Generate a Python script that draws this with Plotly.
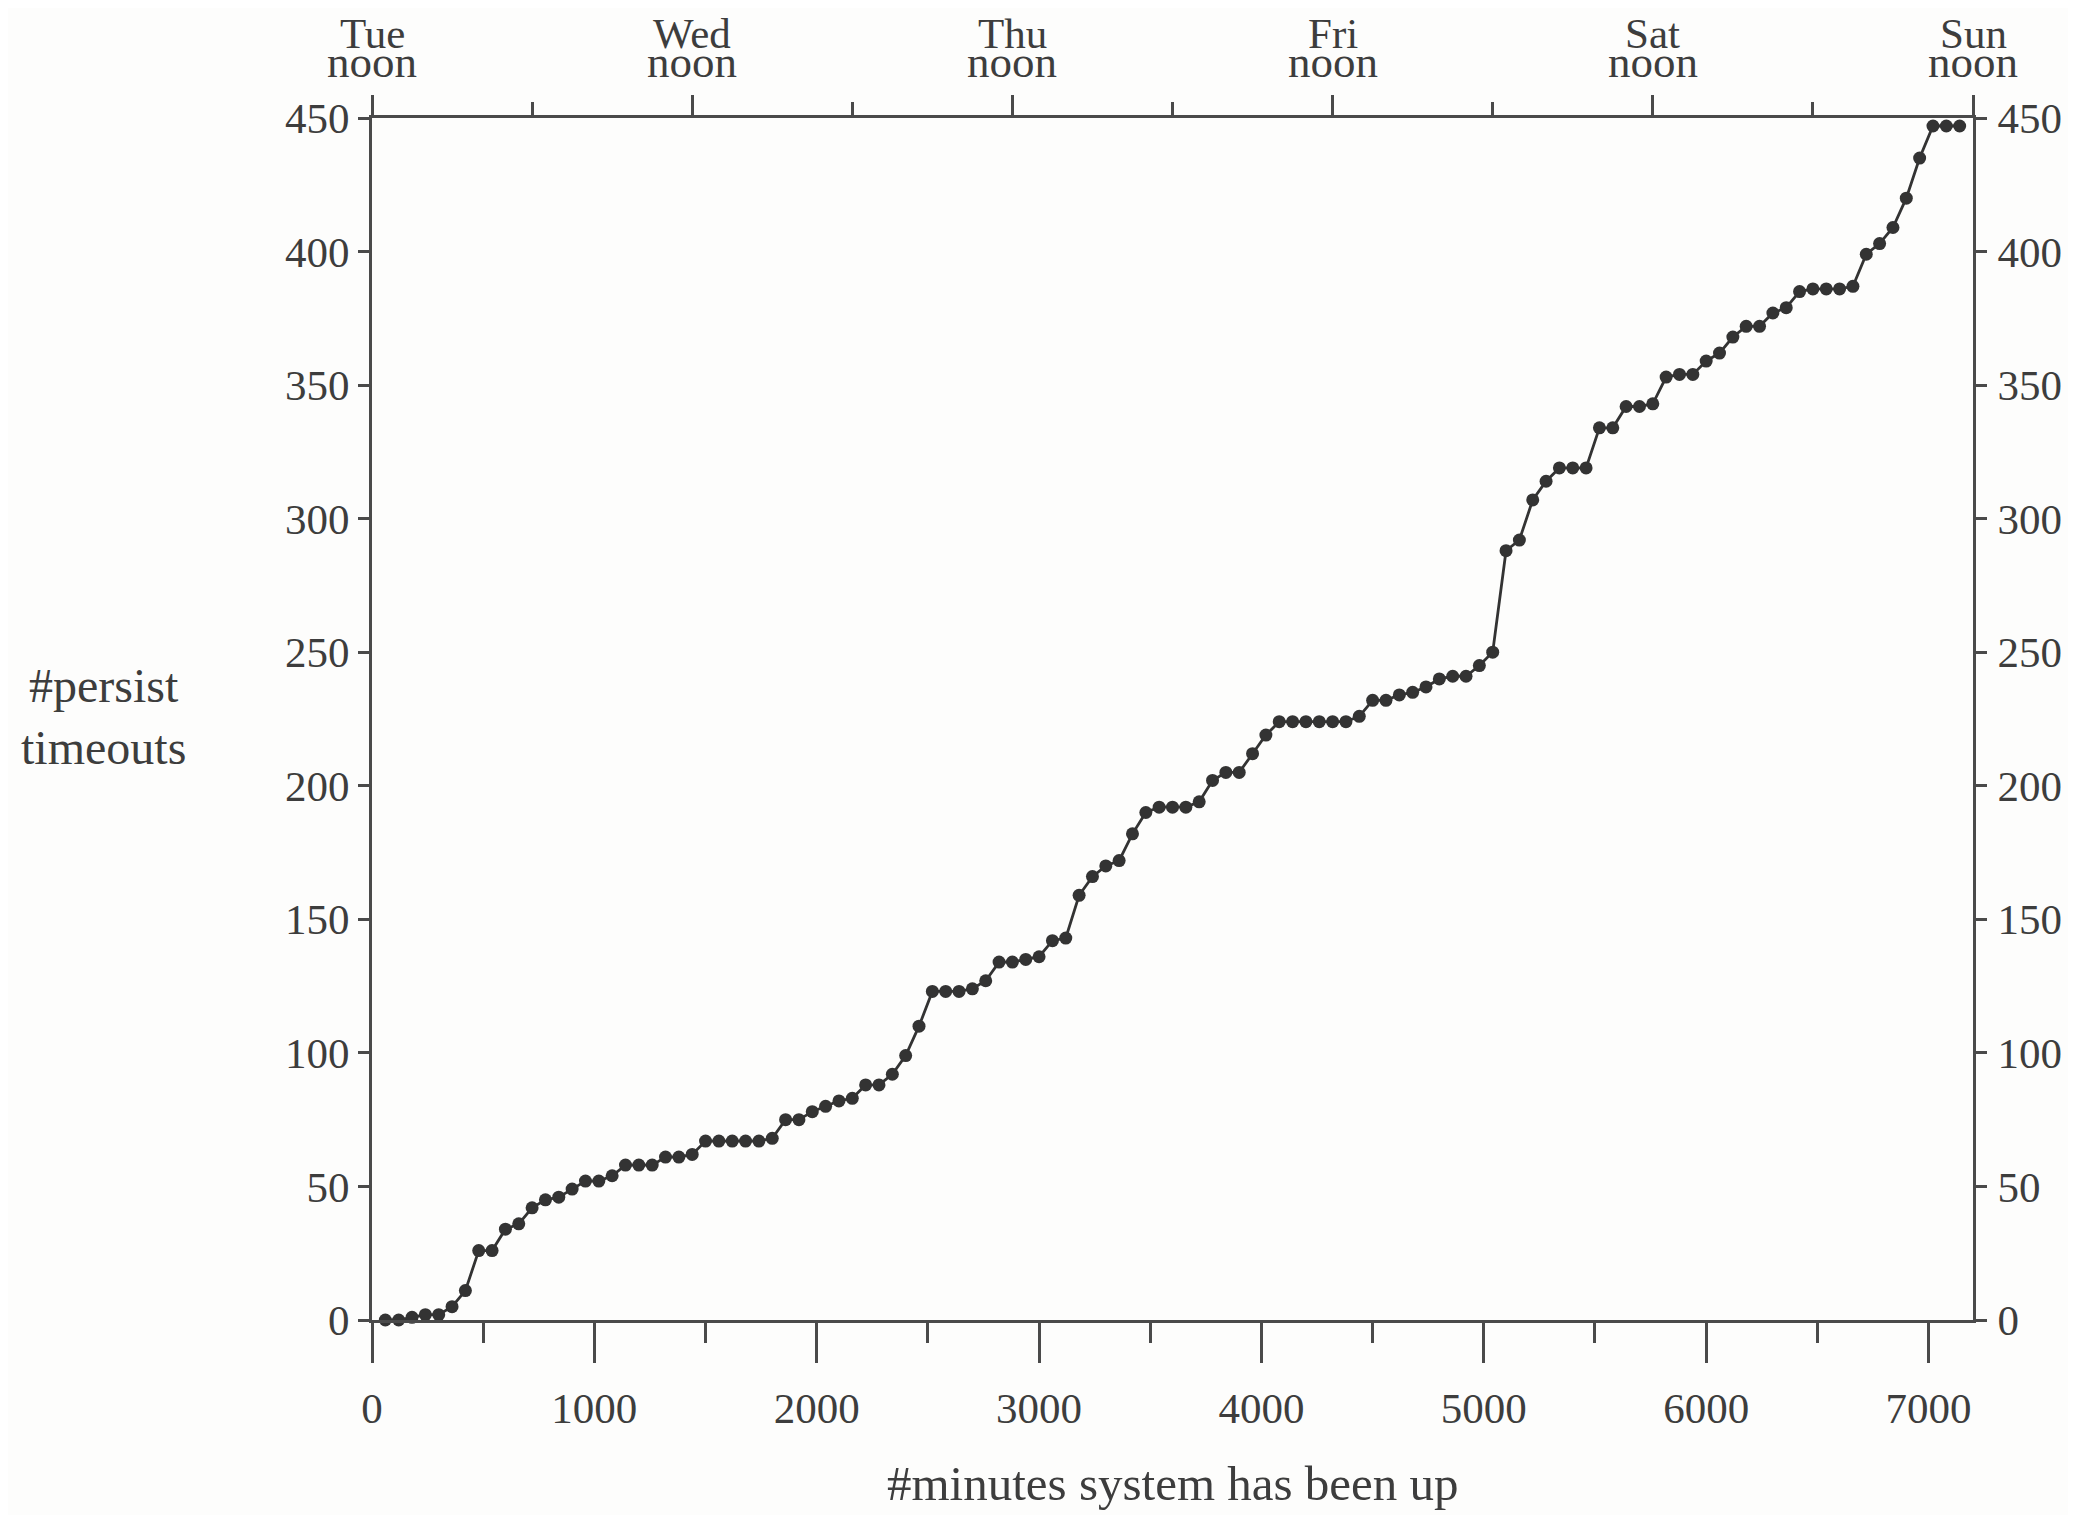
import plotly.graph_objects as go

# hourly samples: minutes since boot
minutes = [60 * k for k in range(1, 120)]
timeouts = [
    0, 0, 1, 2, 2, 5, 11, 26, 26, 34,
    36, 42, 45, 46, 49, 52, 52, 54, 58, 58,
    58, 61, 61, 62, 67, 67, 67, 67, 67, 68,
    75, 75, 78, 80, 82, 83, 88, 88, 92, 99,
    110, 123, 123, 123, 124, 127, 134, 134, 135, 136,
    142, 143, 159, 166, 170, 172, 182, 190, 192, 192,
    192, 194, 202, 205, 205, 212, 219, 224, 224, 224,
    224, 224, 224, 226, 232, 232, 234, 235, 237, 240,
    241, 241, 245, 250, 288, 292, 307, 314, 319, 319,
    319, 334, 334, 342, 342, 343, 353, 354, 354, 359,
    362, 368, 372, 372, 377, 379, 385, 386, 386, 386,
    387, 399, 403, 409, 420, 435, 447, 447, 447,
]

bottom_ticks = [0, 1000, 2000, 3000, 4000, 5000, 6000, 7000]
bottom_minor = [500, 1500, 2500, 3500, 4500, 5500, 6500]
y_ticks = [0, 50, 100, 150, 200, 250, 300, 350, 400, 450]
noon_ticks = [0, 1440, 2880, 4320, 5760, 7200]
midnight_ticks = [720, 2160, 3600, 5040, 6480]
day_names = ["Tue", "Wed", "Thu", "Fri", "Sat", "Sun"]
noon_word = ["noon"] * 6

FONT = "Liberation Serif"
TXT = "#3d3d3d"
AX = "#4a4a4a"
FS = 43

fig = go.Figure()
fig.add_trace(go.Scatter(
    x=minutes, y=timeouts, mode="lines+markers",
    line=dict(color="#333333", width=2.8),
    marker=dict(color="#333333", size=13),
    showlegend=False, cliponaxis=False, xaxis="x", yaxis="y",
))
# same data on the mirrored (top / right) axes so those axes are drawn
fig.add_trace(go.Scatter(
    x=minutes, y=timeouts, mode="markers",
    marker=dict(color="rgba(0,0,0,0)", size=1),
    showlegend=False, hoverinfo="skip", xaxis="x2", yaxis="y2",
))

common_axis = dict(
    showline=True, linecolor=AX, linewidth=3, showgrid=False, zeroline=False,
    ticks="outside", tickcolor=AX, tickwidth=2.5,
    tickfont=dict(family=FONT, size=FS, color=TXT),
)

fig.update_layout(
    width=2076, height=1515,
    margin=dict(l=364, r=111, t=110, b=203),
    paper_bgcolor="#fdfdfc", plot_bgcolor="#fdfdfc",
    xaxis=dict(
        **common_axis, range=[0, 7200], tickvals=bottom_ticks, ticklen=40,
        ticklabelstandoff=8, anchor="y",
        minor=dict(tickvals=bottom_minor, ticks="outside", ticklen=20,
                   tickcolor=AX, tickwidth=2.5),
    ),
    xaxis2=dict(
        **common_axis, range=[0, 7200], overlaying="x", side="top", anchor="y2",
        tickvals=noon_ticks, ticktext=[""] * 6, ticklen=20,
        minor=dict(tickvals=midnight_ticks, ticks="outside", ticklen=13,
                   tickcolor=AX, tickwidth=2.5),
    ),
    yaxis=dict(**common_axis, range=[0, 450], tickvals=y_ticks, ticklen=11,
               ticklabelstandoff=0, anchor="x"),
    yaxis2=dict(**common_axis, range=[0, 450], tickvals=y_ticks, ticklen=11,
                overlaying="y", side="right", anchor="x2", ticklabelstandoff=2),
)

# top day labels (two tight lines)
for xv, d, n in zip(noon_ticks, day_names, noon_word):
    fig.add_annotation(x=xv, xref="x", y=1.0707, yref="paper", text=d,
                       showarrow=False, yanchor="middle", xanchor="center",
                       font=dict(family=FONT, size=FS, color=TXT))
    fig.add_annotation(x=xv, xref="x", y=1.0466, yref="paper", text=n,
                       showarrow=False, yanchor="middle", xanchor="center",
                       font=dict(family=FONT, size=FS + 2, color=TXT))

fig.add_annotation(x=-0.168, xref="paper", y=226, yref="y",
                   text="#persist<br>timeouts", showarrow=False,
                   xanchor="center", yanchor="middle", align="center",
                   font=dict(family=FONT, size=48, color=TXT))
fig.add_annotation(x=0.5, xref="paper", y=-0.136, yref="paper",
                   text="#minutes system has been up", showarrow=False,
                   xanchor="center", yanchor="middle",
                   font=dict(family=FONT, size=49, color=TXT))

fig.write_html("out.html")
